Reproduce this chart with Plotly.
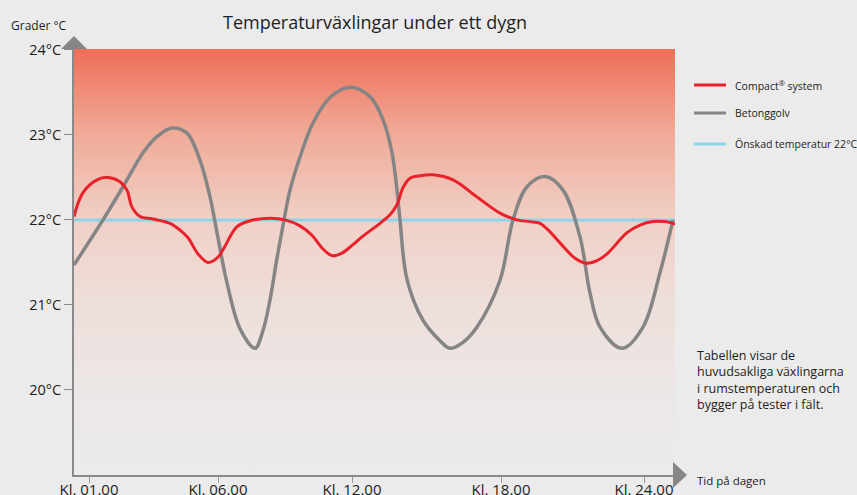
import plotly.graph_objects as go

# ---- data ----
# positions along the time axis (arbitrary position units)
tick_pos = [89, 218, 352, 501, 644]
tick_labels = ["Kl. 01.00", "Kl. 06.00", "Kl. 12.00", "Kl. 18.00", "Kl. 24.00"]

y_ticks = [20, 21, 22, 23, 24]
y_tick_labels = ["20°C", "21°C", "22°C", "23°C", "24°C"]

compact_t = [74, 83, 97, 108, 120, 127, 132, 140, 153, 170, 180, 188, 198, 208, 217,
             223, 237, 250, 270, 285, 300, 312, 322, 332, 342, 352, 362, 380, 390, 397,
             403, 410, 420, 433, 453, 477, 500, 517, 530, 540, 550, 560, 575, 587, 597,
             607, 627, 640, 653, 665, 675]
compact_temp = [22.04, 22.32, 22.47, 22.50, 22.45, 22.35, 22.15, 22.04, 22.01, 21.96,
                21.88, 21.79, 21.60, 21.50, 21.55, 21.65, 21.92, 21.99, 22.02, 22.00,
                21.93, 21.82, 21.67, 21.58, 21.61, 21.70, 21.80, 21.96, 22.06, 22.18,
                22.38, 22.49, 22.52, 22.53, 22.47, 22.27, 22.08, 22.00, 21.98, 21.96,
                21.86, 21.73, 21.55, 21.49, 21.52, 21.60, 21.85, 21.94, 21.98, 21.98,
                21.95]

beton_t = [74, 90, 103, 123, 143, 157, 172, 187, 200, 210, 217, 227, 240, 255, 263,
           270, 277, 284, 290, 300, 313, 330, 350, 370, 383, 392, 397, 400, 407, 423,
           440, 450, 463, 477, 500, 513, 527, 545, 563, 580, 590, 600, 622, 643, 660,
           673]
beton_temp = [21.47, 21.76, 22.00, 22.39, 22.79, 22.98, 23.08, 23.02, 22.70, 22.27,
              21.85, 21.26, 20.72, 20.49, 20.70, 21.06, 21.55, 22.00, 22.35, 22.74,
              23.14, 23.44, 23.56, 23.45, 23.18, 22.79, 22.35, 22.00, 21.30, 20.82,
              20.58, 20.49, 20.56, 20.74, 21.29, 22.00, 22.39, 22.51, 22.35, 21.80,
              21.14, 20.74, 20.49, 20.74, 21.38, 22.00]

target_temp = 22
x_min, x_max = 74, 675
y_min, y_max = 19, 24.01

RED = "#e8212b"
GRAY = "#858585"
BLUE = "#8fd4e8"
BG = "#ebebeb"
TXT = "#1e1e1e"
FONT = "Open Sans"

fig = go.Figure()

# gradient background
fig.add_trace(go.Scatter(
    x=[x_min, x_max, x_max, x_min, x_min],
    y=[y_min, y_min, y_max, y_max, y_min],
    mode="lines", line=dict(width=0), fill="toself",
    fillgradient=dict(type="vertical", start=y_min, stop=y_max,
                      colorscale=[[0.0, "#ebebeb"], [0.2, "#ece7e6"], [0.4, "#eedfda"],
                                  [0.6, "#f0d0c6"], [0.8, "#f0ab98"], [1.0, "#ef6e58"]]),
    hoverinfo="skip", showlegend=False))

fig.add_trace(go.Scatter(x=[x_min, x_max], y=[target_temp, target_temp], mode="lines",
                         line=dict(color=BLUE, width=3), showlegend=False))
fig.add_trace(go.Scatter(x=beton_t, y=beton_temp, mode="lines",
                         line=dict(color=GRAY, width=3.5, shape="spline", smoothing=1.0),
                         showlegend=False))
fig.add_trace(go.Scatter(x=compact_t, y=compact_temp, mode="lines",
                         line=dict(color=RED, width=3, shape="spline", smoothing=1.0),
                         showlegend=False))

W, H = 857, 495
L, R, T, B = 74, 182, 49, 20
pw, ph = W - L - R, H - T - B


def px(xp):
    return (xp - L) / pw


def py(yp):
    return (H - B - yp) / ph


shapes = [
    # axis arrows
    dict(type="path", xref="paper", yref="paper", xsizemode="pixel", ysizemode="pixel",
         xanchor=0, yanchor=1, path="M-13,0 L13,0 L0,13 Z",
         fillcolor="#868686", line=dict(width=0)),
    dict(type="path", xref="paper", yref="paper", xsizemode="pixel", ysizemode="pixel",
         xanchor=px(673), yanchor=0, path="M0,-13 L0,13 L14,0 Z",
         fillcolor="#868686", line=dict(width=0)),
]
legend_items = [("Compact<sup>®</sup> system", RED, 85),
                ("Betonggolv", GRAY, 113),
                ("Önskad temperatur 22°C", BLUE, 144)]
annotations = []
for label, col, yy in legend_items:
    shapes.append(dict(type="line", xref="paper", yref="paper", x0=px(694), x1=px(726),
                       y0=py(yy), y1=py(yy), line=dict(color=col, width=3)))
    annotations.append(dict(text=label, xref="paper", yref="paper", x=px(733), y=py(yy),
                            xanchor="left", yanchor="middle", showarrow=False,
                            font=dict(size=10.5, color=TXT, family=FONT)))

annotations += [
    dict(text="Tabellen visar de<br>huvudsakliga växlingarna<br>i rumstemperaturen och<br>bygger på tester i fält.",
         xref="paper", yref="paper", x=px(695), y=py(345), xanchor="left", yanchor="top",
         align="left", showarrow=False, font=dict(size=12.5, color=TXT, family=FONT)),
    dict(text="Tid på dagen", xref="paper", yref="paper", x=px(695), y=py(480),
         xanchor="left", yanchor="middle", showarrow=False,
         font=dict(size=11.5, color=TXT, family=FONT)),
    dict(text="Grader °C", xref="paper", yref="paper", x=px(9), y=py(25),
         xanchor="left", yanchor="middle", showarrow=False,
         font=dict(size=12, color=TXT, family=FONT)),
    dict(text="Temperaturväxlingar under ett dygn", xref="paper", yref="paper",
         x=px(375), y=py(22), xanchor="center", yanchor="middle", showarrow=False,
         font=dict(size=18, color=TXT, family=FONT)),
]

fig.update_layout(
    width=W, height=H, margin=dict(l=L, r=R, t=T, b=B, autoexpand=False),
    paper_bgcolor=BG, plot_bgcolor=BG,
    font=dict(family=FONT, color=TXT),
    shapes=shapes, annotations=annotations, showlegend=False,
    xaxis=dict(range=[x_min, x_max], tickvals=tick_pos, ticktext=tick_labels,
               automargin=False,
               showgrid=False, zeroline=False, showline=True, linecolor="#8a8a8a",
               linewidth=2, ticks="outside", ticklen=6, tickcolor="#9a9a9a", tickwidth=1,
               ticklabelstandoff=-6,
               tickfont=dict(size=15, color=TXT, family=FONT), fixedrange=True),
    yaxis=dict(range=[y_min, y_max], tickvals=y_ticks, ticktext=y_tick_labels,
               automargin=False,
               showgrid=False, zeroline=False, showline=True, linecolor="#8a8a8a",
               linewidth=2, ticks="outside", ticklen=8, tickcolor="#8a8a8a", tickwidth=1,
               tickfont=dict(size=14.5, color=TXT, family=FONT), fixedrange=True),
)

fig.write_html(
    "out.html",
    config={"displayModeBar": False},
    post_script="document.body.style.margin='0';document.body.style.background='#ebebeb';"
                "document.body.style.overflow='hidden';",
)
